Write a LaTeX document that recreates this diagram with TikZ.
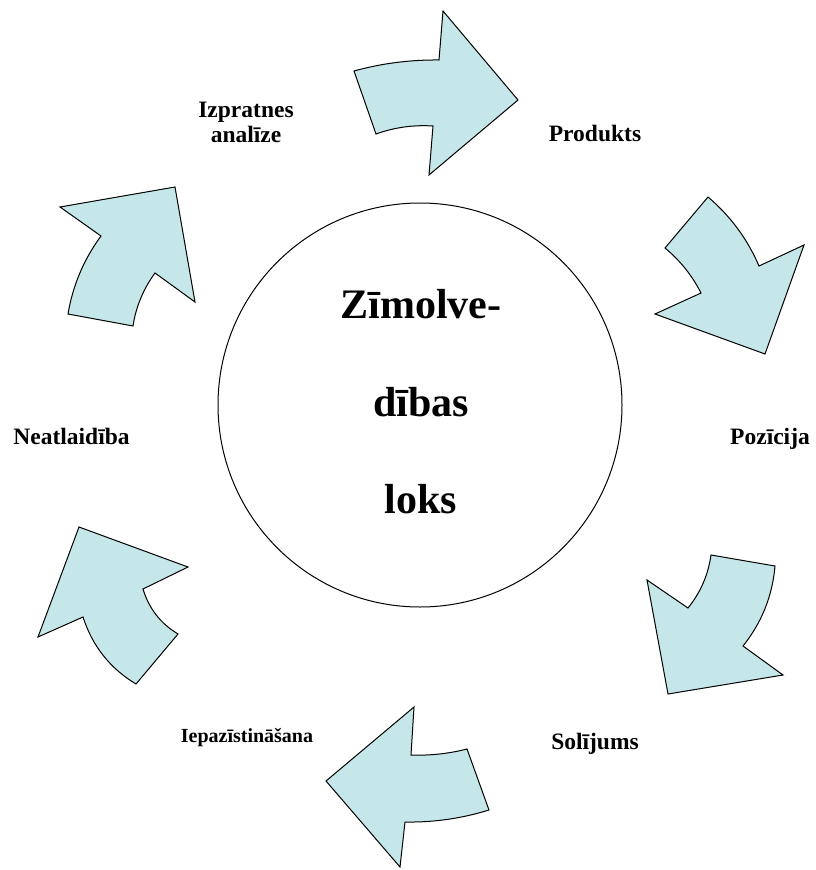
\documentclass[tikz,border=0pt]{standalone}
\usepackage{fontspec}
\setmainfont{Liberation Serif}
\definecolor{arrowfill}{RGB}{198,231,233}
\begin{document}
\begin{tikzpicture}[x=1pt,y=-1pt,
  blk/.style={draw=black, line width=1pt, fill=arrowfill, line join=miter},
  lbl/.style={font=\bfseries\fontsize{23.5}{25}\selectfont, anchor=base, inner sep=0pt, align=center},
  small/.style={font=\bfseries\fontsize{20}{22}\selectfont, anchor=base, inner sep=0pt},
  big/.style={font=\bfseries\fontsize{42}{48}\selectfont, anchor=base, inner sep=0pt}]
\useasboundingbox (0,0) rectangle (816,870);

% central ring
\node[draw, circle, line width=1pt, minimum size=404pt, inner sep=0pt] (hub) at (420,405) {};
\node[big] (t1) at (421,318) {Zīmolve-};
\node[big] (t2) at (421,416) {dības};
\node[big] (t3) at (421,513) {loks};

% curved block arrows, clockwise from the top
\path[blk] (354,71) .. controls (381.8,63.3) and (410.2,59.7) .. (439,60) -- (443,11) -- (518,100)
  -- (429,175) -- (433,126) .. controls (413.4,124.7) and (394.4,127.4) .. (376,134) -- cycle;
\path[blk] (708,197) .. controls (730.4,216) and (747.4,239) .. (759,266) -- (804,245) -- (765,354)
  -- (655,314) -- (701,293) .. controls (692.1,275.5) and (680.1,260.5) .. (665,248) -- cycle;
\path[blk] (711,555) -- (775,566) .. controls (772.4,595.9) and (761.8,622.5) .. (743,646) -- (783,675)
  -- (668,694) -- (647,580) -- (688,608) .. controls (700.6,592.4) and (708.2,574.8) .. (711,555) -- cycle;
\path[blk] (414,707) -- (411,755) .. controls (430,755.7) and (448.6,753.7) .. (467,749) -- (489,810)
  .. controls (461.6,818.5) and (433.6,822.5) .. (405,822) -- (400,867) -- (326,781) -- cycle;
\path[blk] (79,527) -- (188,567) -- (143,589) .. controls (148.9,608.5) and (160.5,623.5) .. (178,634)
  -- (136,684) .. controls (109.9,668.3) and (92.3,645.9) .. (83,617) -- (38,637) -- cycle;
\path[blk] (60,207) -- (175,187) -- (195,302) -- (155,273) .. controls (143.4,288.9) and (136,306.5) .. (133,326)
  -- (68,314) .. controls (72.8,285.4) and (83.8,259.4) .. (101,236) -- cycle;

% stage labels
\node[lbl] (izpr) at (246,142) {Izpratnes\\analīze};
\node[lbl] (prod) at (595,141) {Produkts};
\node[lbl] (poz) at (770,444) {Pozīcija};
\node[lbl] (sol) at (595,749) {Solījums};
\node[small] (iep) at (247,742) {Iepazīstināšana};
\node[lbl] (neat) at (71.5,444) {Neatlaidība};
\end{tikzpicture}
\end{document}
